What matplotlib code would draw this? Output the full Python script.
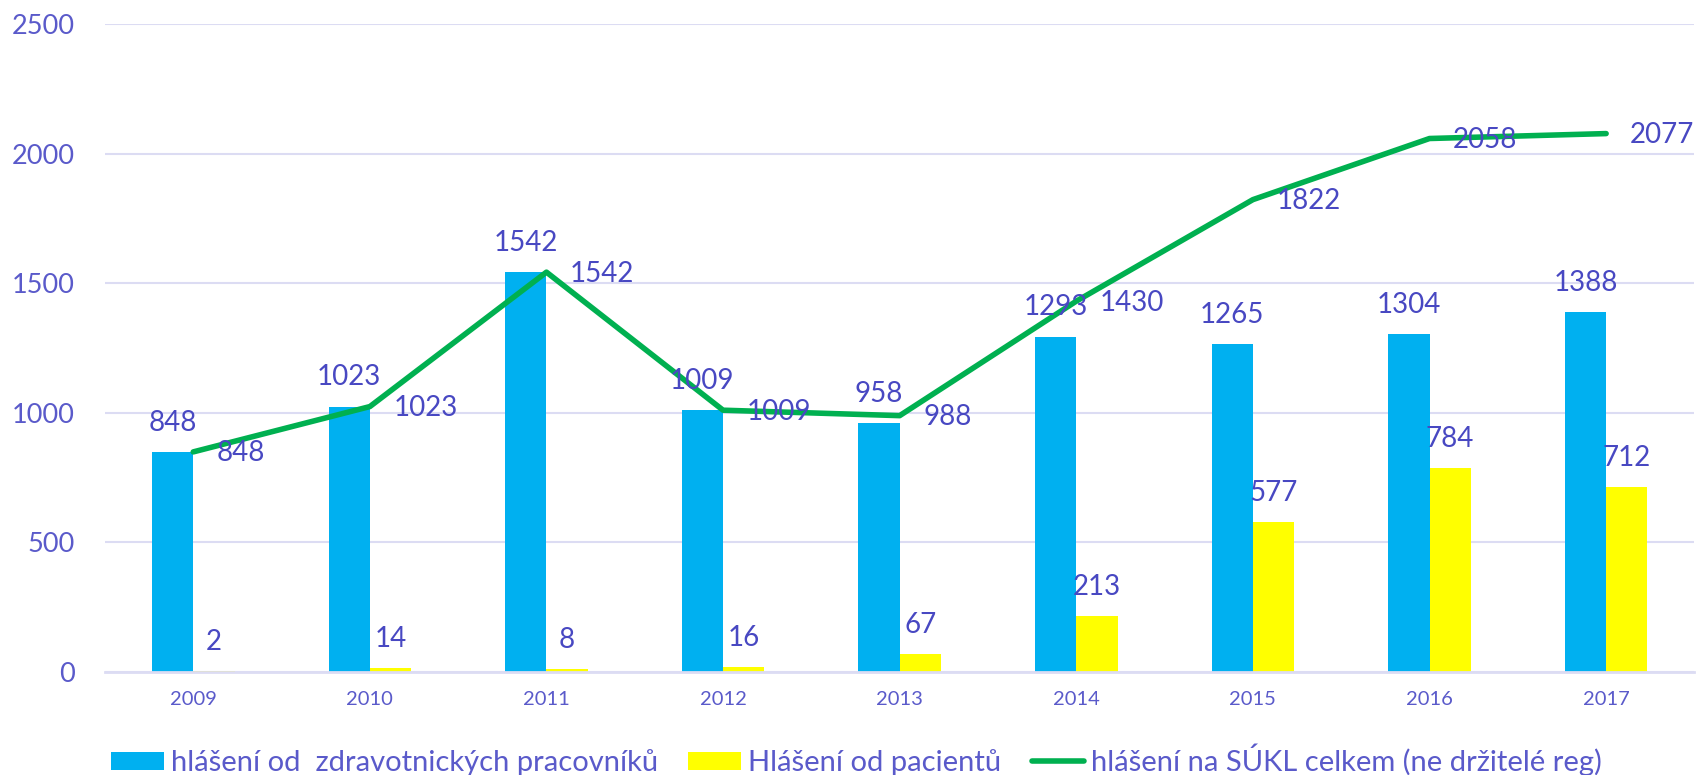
import matplotlib.pyplot as plt
import numpy as np

# ── DATA ─────────────────────────────────────────────────────────────────────
years = ["2009", "2010", "2011", "2012", "2013", "2014", "2015", "2016", "2017"]
health_workers = [848, 1023, 1542, 1009, 958, 1293, 1265, 1304, 1388]
patients = [2, 14, 8, 16, 67, 213, 577, 784, 712]
total_sukl = [848, 1023, 1542, 1009, 988, 1430, 1822, 2058, 2077]

labels = [
    "hlášení od  zdravotnických pracovníků",
    "Hlášení od pacientů",
    "hlášení na SÚKL celkem (ne držitelé reg)",
]

# ── STYLE ────────────────────────────────────────────────────────────────────
plt.rcParams["font.family"] = ["Lato", "DejaVu Sans"]
BLUE = "#00B0F0"
YELLOW = "#FFFF00"
GREEN = "#00B050"
LABEL_C = "#4848C2"
TICK_C = "#5A5ACA"
GRID_C = "#DCDCF3"

fig = plt.figure(figsize=(16.98, 7.75), dpi=100)
ax = fig.add_axes([0.0618, 0.1335, 0.9361, 0.8355])

x = np.arange(len(years))
w = 0.234

b1 = ax.bar(x - w / 2, health_workers, width=w, color=BLUE, zorder=2, label=labels[0])
b2 = ax.bar(x + w / 2, patients, width=w, color=YELLOW, zorder=2, label=labels[1])
ln, = ax.plot(x, total_sukl, color=GREEN, lw=4, solid_capstyle="round",
              zorder=3, label=labels[2])

# data labels
for xi, v in zip(x, health_workers):
    ax.annotate(str(v), (xi - w / 2, v), xytext=(0, 21), textcoords="offset points",
                ha="center", va="center", fontsize=20, color=LABEL_C, zorder=4)
for xi, v in zip(x, patients):
    ax.annotate(str(v), (xi + w / 2, v), xytext=(0, 21), textcoords="offset points",
                ha="center", va="center", fontsize=20, color=LABEL_C, zorder=4)
for xi, v in zip(x, total_sukl):
    ax.annotate(str(v), (xi, v), xytext=(17, -1), textcoords="offset points",
                ha="left", va="center", fontsize=20, color=LABEL_C, zorder=4)

# axes
ax.set_xlim(-0.5, len(years) - 0.5)
ax.set_ylim(0, 2500)
ax.set_yticks(range(0, 2501, 500))
ax.set_xticks(x)
ax.set_xticklabels(years)
ax.tick_params(axis="y", length=0, pad=22, labelsize=19.5, labelcolor=TICK_C)
ax.tick_params(axis="x", length=0, pad=14, labelsize=14.5, labelcolor=TICK_C)
ax.grid(axis="y", color=GRID_C, lw=1.5, zorder=0)
for side in ["left", "right", "top"]:
    ax.spines[side].set_visible(False)
ax.spines["bottom"].set_color(GRID_C)
ax.spines["bottom"].set_linewidth(2)

leg = fig.legend(handles=[b1, b2, ln], loc="center left",
                 bbox_to_anchor=(111 / 1698, 1 - 760 / 775), ncol=3, frameon=False,
                 fontsize=21, handlelength=1.8, handleheight=0.62, handletextpad=0.24,
                 columnspacing=1.05, borderpad=0, borderaxespad=0)
for t in leg.get_texts():
    t.set_color(TICK_C)

plt.savefig("out.png", dpi=100)
